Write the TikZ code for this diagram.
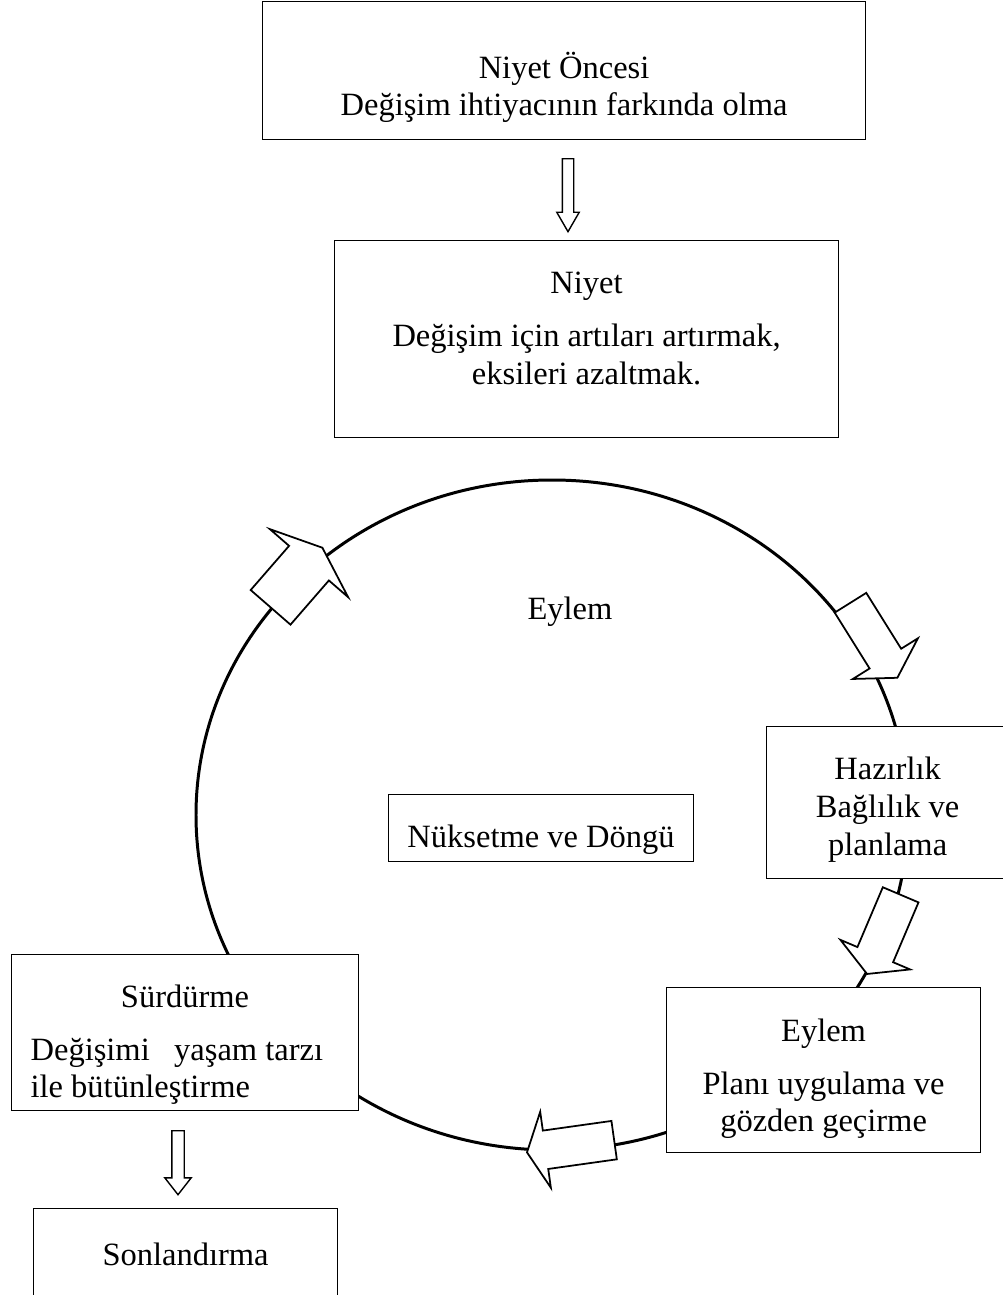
\documentclass[tikz,border=0pt]{standalone}
\usepackage{fontspec}
\setmainfont{Liberation Serif}
\usetikzlibrary{shapes.arrows}
\tikzset{
  stage/.style={draw, fill=white, line width=0.7pt, anchor=north west, align=center, inner sep=0pt},
  blockarr/.style={single arrow, draw, fill=white, line width=1pt, anchor=tail, minimum width=0pt, inner xsep=0pt},
  thinarr/.style={blockarr, line width=0.8pt}
}

\begin{document}
\begin{tikzpicture}[x=0.02cm, y=-0.02cm, font=\fontsize{18.5}{21.5}\selectfont]
    \useasboundingbox (0,0) rectangle (1002,1295);

    % The cycle
    \draw[line width=1.7pt] (552,815) ellipse [x radius=356, y radius=335];

    % Stages
    \node[stage, minimum width=12.06cm, minimum height=2.76cm] (pre) at (262,1)
        {\rule{0pt}{1.2cm}Niyet Öncesi\\ Değişim ihtiyacının farkında olma};
    \node[stage, minimum width=10.08cm, minimum height=3.94cm] (niyet) at (334,240)
        {Niyet\\[0.3cm] Değişim için artıları artırmak,\\ eksileri azaltmak.\rule[-0.44cm]{0pt}{0.44cm}};
    \node[stage, minimum width=6.1cm, minimum height=1.34cm, text height=0.78cm, text depth=0pt] (nuks) at (388,794)
        {Nüksetme ve Döngü};
    \node[stage, minimum width=4.84cm, minimum height=3.04cm] (hazir) at (766,726)
        {\rule{0pt}{0.74cm}Hazırlık\\ Bağlılık ve\\ planlama};
    \node[stage, minimum width=6.28cm, minimum height=3.3cm] (eylem) at (666,987)
        {\rule{0pt}{0.8cm}Eylem\\[0.3cm] Planı uygulama ve\\ gözden geçirme};
    \node[stage, align=flush left, text width=6.18cm, inner xsep=0.38cm, minimum height=3.12cm] (surd) at (11,954)
        {\rule{0pt}{0.94cm}\makebox[\linewidth]{Sürdürme}\\[0.3cm] Değişimi\ \ \ yaşam tarzı\\ ile bütünleştirme};
    \node[stage, minimum width=6.08cm, minimum height=1.84cm] (sonl) at (33,1208)
        {Sonlandırma};

    % Label inside the cycle
    \node (eylemLbl) at (570,612) {Eylem};

    % Hollow arrows
    \node[thinarr, rotate=-90, minimum height=1.46cm, inner ysep=0.1cm, single arrow head extend=0.11cm, single arrow tip angle=60] (arrPre) at (568,158) {};
    \node[thinarr, rotate=-90, minimum height=1.28cm, inner ysep=0.11cm, single arrow head extend=0.14cm, single arrow tip angle=76] (arrSon) at (178,1130) {};

    % Arrows on the cycle
    \node[blockarr, rotate=49, minimum height=1.58cm, inner ysep=0.51cm, single arrow head extend=0.51cm, single arrow tip angle=137] (loopArr) at (270,608) {};
    \node[blockarr, rotate=-58, minimum height=1.77cm, inner ysep=0.355cm, single arrow head extend=0.395cm, single arrow tip angle=119] (toHazir) at (850,602) {};
    \node[blockarr, rotate=-113, minimum height=1.72cm, inner ysep=0.37cm, single arrow head extend=0.37cm, single arrow tip angle=122] (toEylem) at (901,894) {};
    \node[blockarr, rotate=188, minimum height=1.76cm, inner ysep=0.37cm, single arrow head extend=0.38cm, single arrow tip angle=128] (toSurd) at (615,1140) {};

\end{tikzpicture}
\end{document}
